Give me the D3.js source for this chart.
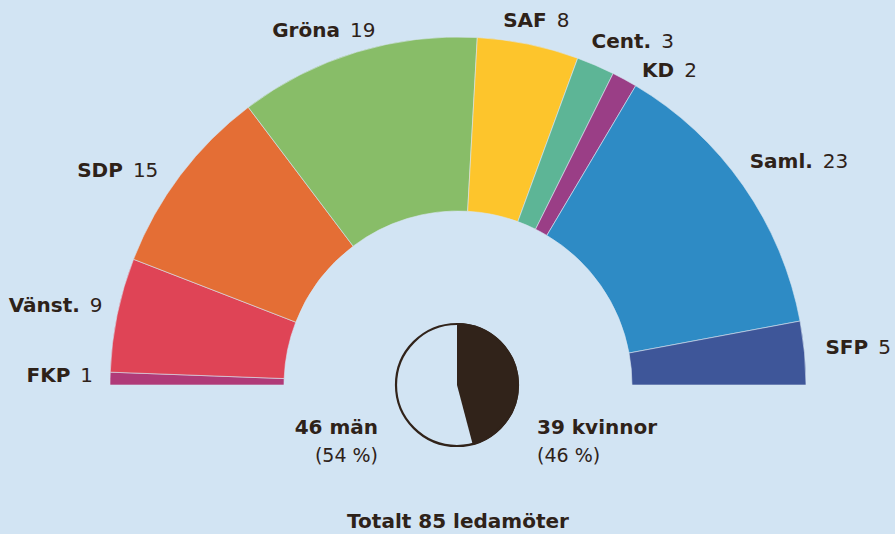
<!DOCTYPE html>
<html><head><meta charset="utf-8">
<script src="https://cdn.jsdelivr.net/npm/d3@7/dist/d3.min.js"></script>
<style>
html,body{margin:0;padding:0;background:#d2e4f3;}
svg{display:block;}
text{font-family:"DejaVu Sans",sans-serif;fill:#2e2219;}
</style></head>
<body>
<svg id="c" width="895" height="534"></svg>
<script>
// Data
const parties = ["FKP","Vänst.","SDP","Gröna","SAF","Cent.","KD","Saml.","SFP"];
const seats   = [1, 9, 15, 19, 8, 3, 2, 23, 5];
const colors  = ["#b03a78","#df4456","#e46e35","#88bd68","#fdc52c","#5db596","#9a3e86","#2e8bc5","#3e5699"];
const genderLabels = ["kvinnor","män"];
const genderCounts = [39, 46];
const totalLabel = "Totalt 85 ledamöter";

// layout
const W = 895, H = 534;
const cx = 458, cy = 385, rOuter = 348, rInner = 174;
const rLabel = 368;
// label nudges (dx, dy) per party
const nudges = [[3,-3],[5,-6],[-6,7],[-27,-3],[4,-5],[-12,-6],[8,8],[-10,-13],[1,-4]];

const svg = d3.select("#c");
const g = svg.append("g").attr("transform",`translate(${cx},${cy})`);

const data = parties.map((p,i)=>({party:p, seats:seats[i], color:colors[i], nudge:nudges[i]}));
const pie = d3.pie().value(d=>d.seats).sort(null).startAngle(-Math.PI/2).endAngle(Math.PI/2);
const arcs = pie(data);
const arc = d3.arc().innerRadius(rInner).outerRadius(rOuter);

g.selectAll("path.seg").data(arcs).join("path")
  .attr("class","seg")
  .attr("d",arc)
  .attr("fill",d=>d.data.color)
  .attr("stroke","#d8e6f2").attr("stroke-width",0.6);

const fs = 20;
arcs.forEach(a=>{
  const mid = (a.startAngle+a.endAngle)/2;
  const deg = mid*180/Math.PI;
  let x = rLabel*Math.sin(mid) + a.data.nudge[0];
  let y = -rLabel*Math.cos(mid) + a.data.nudge[1];
  const anchor = Math.abs(deg) < 20 ? "middle" : (deg<0 ? "end" : "start");
  const t = g.append("text").attr("x",x).attr("y",y).attr("dy","0.35em")
    .attr("text-anchor",anchor).attr("font-size",fs);
  t.append("tspan").attr("font-weight","bold").text(a.data.party);
  t.append("tspan").attr("dx",10).attr("font-weight","normal").text(a.data.seats);
});

// gender pie
const rPie = 62;
const gp = svg.append("g").attr("transform",`translate(457,385)`);
const gpie = d3.pie().sort(null).value(d=>d)(genderCounts);
const garc = d3.arc().innerRadius(0).outerRadius(rPie);
gp.selectAll("path").data(gpie).join("path")
  .attr("d",garc)
  .attr("fill",(d,i)=>i===0?"#31231a":"none");
gp.append("circle").attr("r",rPie-1).attr("fill","none").attr("stroke","#31231a").attr("stroke-width",2.2);

const total = d3.sum(genderCounts);
const pct = v=>Math.round(v/total*100)+" %";
// men (left)
svg.append("text").attr("x",378).attr("y",434).attr("text-anchor","end")
  .attr("font-size",fs).attr("font-weight","bold").text(genderCounts[1]+" "+genderLabels[1]);
svg.append("text").attr("x",378).attr("y",462).attr("text-anchor","end")
  .attr("font-size",19).text("("+pct(genderCounts[1])+")");
// women (right)
svg.append("text").attr("x",537).attr("y",434).attr("text-anchor","start")
  .attr("font-size",fs).attr("font-weight","bold").text(genderCounts[0]+" "+genderLabels[0]);
svg.append("text").attr("x",537).attr("y",462).attr("text-anchor","start")
  .attr("font-size",19).text("("+pct(genderCounts[0])+")");

svg.append("text").attr("x",458).attr("y",528).attr("text-anchor","middle")
  .attr("font-size",fs).attr("font-weight","bold").text(totalLabel);
</script>
</body></html>
